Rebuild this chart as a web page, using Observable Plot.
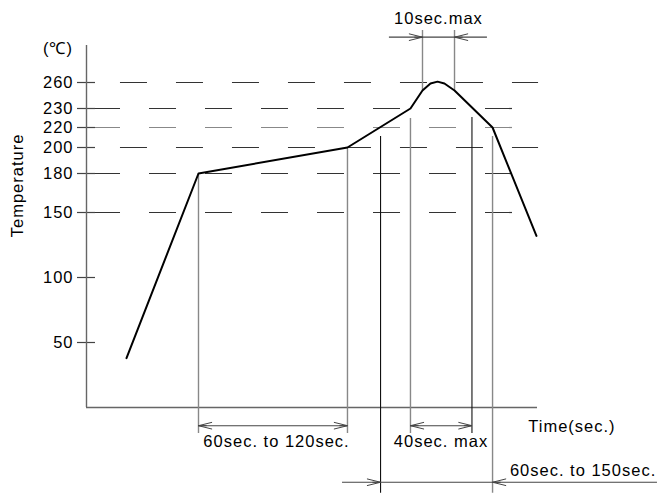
<!DOCTYPE html>
<html><head><meta charset="utf-8">
<script src="https://cdn.jsdelivr.net/npm/d3@7"></script>
<script src="https://cdn.jsdelivr.net/npm/@observablehq/plot@0.6"></script>
<style>body{margin:0;background:#fff}</style>
</head><body><div id="chart"></div>
<script>
// Temperature tick values (°C)
const yTicks = [50, 100, 150, 180, 200, 220, 230, 260];
// Dashed guide levels (two dash phases as in the original drawing)
const dashLevelsA = [260, 200];
const dashLevelsB = [230, 220, 180, 150];
const dashGray = [220];

// Reflow profile (schematic time units, temperature °C)
const profileTime = [26.6, 74.5, 173.6, 215.5, 223.5, 228.8, 233.5, 238.1, 244.8, 270.1, 299.3];
const profileTemp = [38, 180, 200, 230, 250.8, 258.8, 261, 258.8, 250.8, 220, 132];

// Vertical extension lines: time, top temp, bottom temp, dark?
const guideTime   = [74.5, 173.6, 195.6, 215.5, 256.4, 270.1, 223.5, 244.8];
const guideTop    = [180, 200, 211, 224.7, 225.3, 211, 320, 320];
const guideBottom = [-20, -20, -66, -20, -20, -66, 250.8, 250.8];
const guideDark   = [false, false, true, false, true, false, false, false];

// Dimension lines: from, to, level
const dimFrom  = [74.5, 215.5, 170.3, 201.5];
const dimTo    = [173.6, 256.4, 379.8, 266.7];
const dimLevel = [-14, -14, -57.5, 312.3];

// Arrowheads: tip time, direction, level
const headTip   = [74.5, 173.6, 215.5, 256.4, 195.6, 270.1, 223.5, 244.8];
const headDir   = [-1, 1, -1, 1, 1, -1, 1, -1];
const headLevel = [-14, -14, -14, -14, -57.5, -57.5, 312.3, 312.3];

// Annotation texts
const labelText = ["10sec.max", "60sec. to 120sec.", "40sec. max", "60sec. to 150sec.", "Time(sec.)", "(℃)"];
const labelTime = [234.1, 126.4, 235.8, 330.3, 322.9, -19];
const labelTemp = [333.8, -26.2, -26.2, -48.5, -14.6, 299.2];
const yTitle = "Temperature";

const profile = profileTime.map((t, i) => ({t, v: profileTemp[i]}));
const guides = guideTime.map((t, i) => ({t, top: guideTop[i], bottom: guideBottom[i], dark: guideDark[i]}));
const dims = dimFrom.map((a, i) => ({a, b: dimTo[i], v: dimLevel[i]}));
const heads = headTip.map((t, i) => ({x1: t - headDir[i] * 40, x2: t, v: headLevel[i]}));
const labels = labelText.map((s, i) => ({s, t: labelTime[i], v: labelTemp[i]}));

const chart = Plot.plot({
  width: 658, height: 495,
  marginTop: 0, marginRight: 0, marginBottom: 0, marginLeft: 0,
  style: {fontFamily: "'Liberation Sans', Arial, sans-serif", fontSize: "16.5px", letterSpacing: "1px", background: "#fff", color: "#000", overflow: "visible"},
  x: {type: "linear", domain: [0, 300], range: [86, 537], axis: null},
  y: {type: "linear", domain: [0, 50, 100, 150, 180, 200, 220, 230, 260], range: [407, 342, 277, 212, 173, 147, 127, 108, 82], axis: null},
  marks: [
    // dashed levels
    Plot.ruleY(dashLevelsA, {x1: 22.6, x2: 300.7, stroke: "#333", strokeWidth: 1.2, strokeDasharray: "27,29"}),
    Plot.ruleY(dashLevelsB, {x1: 4.66, x2: 283.4, stroke: d => dashGray.includes(d) ? "#888" : "#333", strokeWidth: 1.2, strokeDasharray: "27,29"}),
    // ticks
    Plot.ruleY(yTicks, {x1: -6, x2: 6, stroke: "#444", strokeWidth: 1.2}),
    // axes
    Plot.ruleX([0], {y1: 0, y2: 302.7, stroke: "#666", strokeWidth: 1.4}),
    Plot.ruleY([0], {x1: 0, x2: 300, stroke: "#666", strokeWidth: 1.4}),
    // vertical guides
    Plot.ruleX(guides, {x: "t", y1: "top", y2: "bottom", stroke: d => d.dark ? "#111" : "#888", strokeWidth: d => d.dark ? 1.1 : 1.4}),
    // dimension lines
    Plot.ruleY(dims, {x1: "a", x2: "b", y: "v", stroke: "#444", strokeWidth: 1.1}),
    Plot.arrow(heads, {x1: "x1", x2: "x2", y1: "v", y2: "v", stroke: "#444", strokeWidth: 1, headLength: 21, headAngle: 28, insetStart: 52, strokeLinecap: "butt"}),
    // profile
    Plot.line(profile, {x: "t", y: "v", stroke: "#000", strokeWidth: 2, strokeLinejoin: "round"}),
    // tick labels
    Plot.text(yTicks, {x: 0, y: d => d, text: d => String(d), textAnchor: "end", dx: -13, fill: "#000"}),
    // annotations
    Plot.text(labels, {x: "t", y: "v", text: "s", fill: "#000"}),
    Plot.text([yTitle], {x: -45.6, y: 170.8, text: d => d, rotate: -90, fill: "#000"})
  ]
});
document.getElementById("chart").append(chart);
</script></body></html>
